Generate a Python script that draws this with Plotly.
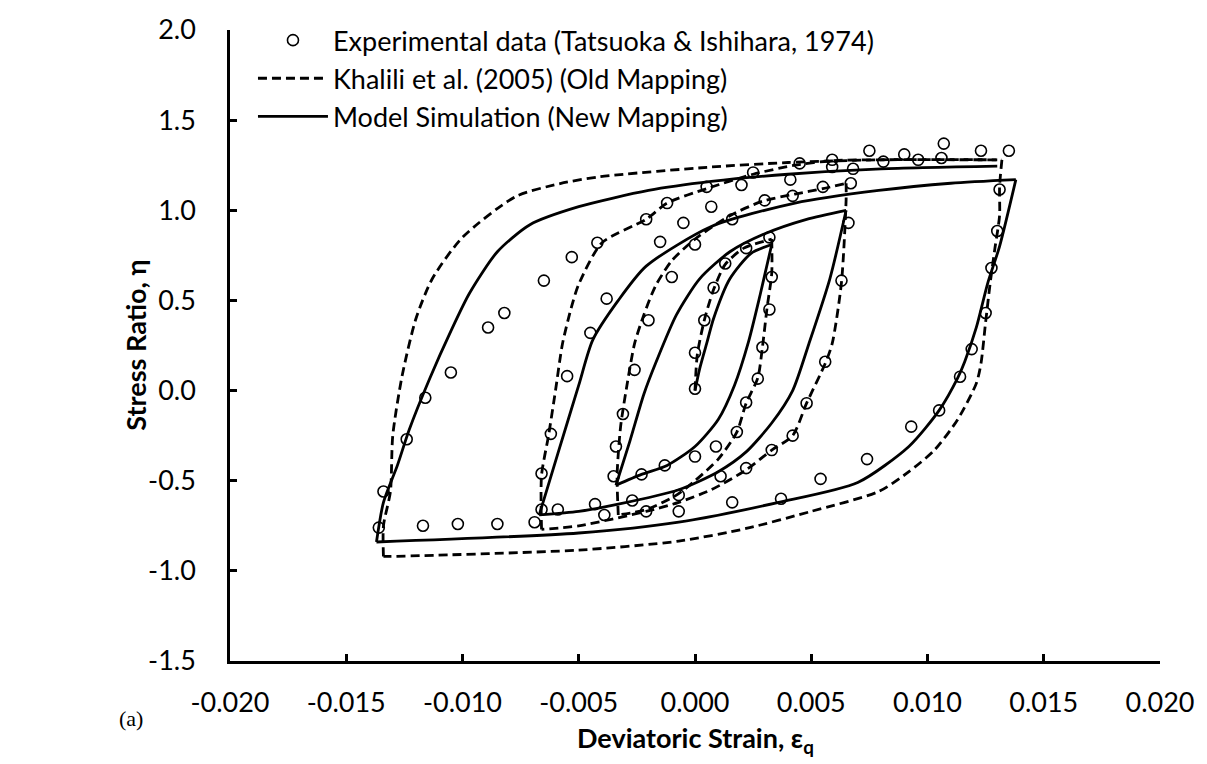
import plotly.graph_objects as go

# ---------------- Data (deviatoric strain, stress ratio) ----------------
# Experimental data (Tatsuoka & Ishihara, 1974)
exp_x = [-0.0136, -0.0134, -0.0124, -0.0116, -0.0105, -0.0089, -0.0082, -0.0065, -0.0053,
         -0.0055, -0.0062, -0.0066, -0.0117, -0.0102, -0.0085, -0.0069, -0.0066, -0.0059,
         -0.0042, -0.0045, 0.0075, 0.0045, 0.0059, 0.0059, 0.0068, 0.0025, 0.0041, 0.0020,
         0.0005, 0.0055, 0.0067, 0.0042, 0.0030, 0.0007, -0.0012, -0.0021, -0.0005, 0.0016,
         -0.0015, 0.0000, 0.0032, 0.0066, 0.0022, 0.0013, -0.0038, -0.0010, 0.0008, 0.0033,
         0.0063, -0.0020, 0.0004, 0.0032, 0.0000, 0.0029, 0.0056, 0.0107, 0.0135, 0.0123,
         0.0090, 0.0096, 0.0106, 0.0081, 0.0131, 0.0130, 0.01275, 0.0125, 0.0119, 0.0114,
         0.0105, 0.0093, 0.0074, -0.0026, 0.0027, 0.0000, 0.0048, 0.0022, -0.0031, 0.0018,
         0.0042, 0.0009, 0.0033, -0.0034, 0.0000, -0.0013, 0.0022, -0.0023, -0.0035, 0.0011,
         0.0054, 0.0037, 0.0016, -0.0027, -0.0007, -0.0043, -0.0021, -0.0007, -0.0039]
exp_y = [-0.76, -0.56, -0.27, -0.04, 0.10, 0.35, 0.43, 0.61, 0.74,
         0.08, -0.24, -0.46, -0.75, -0.74, -0.74, -0.73, -0.66, -0.66,
         0.82, 0.32, 1.33, 1.26, 1.28, 1.24, 1.23, 1.21, 1.17, 1.14,
         1.13, 1.13, 1.15, 1.08, 1.055, 1.02, 1.04, 0.95, 0.93, 0.95,
         0.825, 0.81, 0.85, 0.93, 0.79, 0.705, 0.51, 0.63, 0.57, 0.63,
         0.61, 0.39, 0.39, 0.45, 0.21, 0.24, 0.16, 1.37, 1.33, 1.33,
         1.31, 1.28, 1.29, 1.27, 1.115, 0.885, 0.68, 0.43, 0.23, 0.077,
         -0.11, -0.20, -0.38, 0.115, 0.066, 0.01, -0.07, -0.066, -0.13, -0.23,
         -0.25, -0.31, -0.33, -0.31, -0.366, -0.415, -0.43, -0.465, -0.475, -0.475,
         -0.49, -0.60, -0.62, -0.61, -0.58, -0.63, -0.67, -0.67, -0.69]

# Khalili et al. (2005) (Old Mapping) -- branches in loading order
old_b1_x = [0.0, 0.0001, 0.0004, 0.0008, 0.0013, 0.0021, 0.0033]
old_b1_y = [0.0, 0.20, 0.39, 0.56, 0.70, 0.79, 0.84]
old_b2_x = [0.0033, 0.0033, 0.0031, 0.0029, 0.0027, 0.0022, 0.0018, 0.0010, 0.0000, -0.0008, -0.0021, -0.0033]
old_b2_y = [0.84, 0.65, 0.46, 0.24, 0.07, -0.07, -0.23, -0.38, -0.50, -0.58, -0.66, -0.69]
old_b3_x = [-0.0033, -0.00335, -0.0032, -0.0029, -0.0026, -0.0022, -0.0017, -0.0010, 0.0000, 0.0015, 0.0029, 0.0043, 0.0055, 0.0065]
old_b3_y = [-0.69, -0.47, -0.20, 0.05, 0.26, 0.42, 0.58, 0.72, 0.84, 0.97, 1.05, 1.09, 1.12, 1.15]
old_b4_x = [0.0065, 0.0065, 0.0063, 0.0059, 0.0056, 0.0048, 0.0042, 0.0033, 0.0022, 0.0007, -0.0007, -0.0021, -0.0050, -0.0066]
old_b4_y = [1.15, 1.06, 0.60, 0.26, 0.15, -0.07, -0.25, -0.33, -0.44, -0.55, -0.62, -0.67, -0.75, -0.77]
old_b5_x = [-0.0066, -0.0066, -0.0063, -0.0060, -0.0057, -0.0053, -0.0050, -0.0040, -0.0021, -0.0012, 0.0005, 0.0025, 0.0043, 0.0059, 0.0079, 0.0132]
old_b5_y = [-0.77, -0.47, -0.25, 0.0, 0.26, 0.47, 0.59, 0.82, 0.95, 1.04, 1.12, 1.20, 1.25, 1.275, 1.28, 1.28]
old_b6_x = [0.0132, 0.0131, 0.0131, 0.0129, 0.0127, 0.0125, 0.0123, 0.0121, 0.0113, 0.0103, 0.0092, 0.0079, 0.0050, 0.0022, -0.0007, -0.0050, -0.0131, -0.0134]
old_b6_y = [1.28, 1.13, 0.97, 0.79, 0.60, 0.38, 0.15, 0.04, -0.16, -0.33, -0.45, -0.56, -0.67, -0.765, -0.835, -0.885, -0.92, -0.92]
old_b7_x = [-0.0134, -0.0134, -0.0131, -0.0130, -0.0126, -0.0120, -0.0113, -0.0100, -0.0077, -0.0058, -0.0041, 0.0007, 0.0040, 0.0079, 0.0130]
old_b7_y = [-0.92, -0.75, -0.56, -0.25, 0.08, 0.40, 0.62, 0.85, 1.077, 1.148, 1.186, 1.24, 1.265, 1.28, 1.28]

# Model Simulation (New Mapping) -- branches in loading order
new_b1_x = [0.0, 0.0002, 0.0005, 0.0008, 0.0015, 0.0024, 0.0033]
new_b1_y = [0.0, 0.12, 0.26, 0.40, 0.62, 0.76, 0.81]
new_b2_x = [0.0033, 0.0028, 0.0023, 0.0017, 0.0010, 0.0000, -0.0012, -0.0023, -0.0034]
new_b2_y = [0.81, 0.53, 0.27, 0.03, -0.16, -0.31, -0.415, -0.465, -0.525]
new_b3_x = [-0.0034, -0.0028, -0.0022, -0.0017, -0.0008, 0.0002, 0.0015, 0.0030, 0.0048, 0.0065]
new_b3_y = [-0.525, -0.28, -0.02, 0.15, 0.42, 0.62, 0.77, 0.87, 0.95, 1.0]
new_b4_x = [0.0065, 0.0058, 0.0049, 0.0042, 0.0033, 0.0022, 0.0010, -0.0007, -0.0033, -0.0050, -0.0067]
new_b4_y = [1.0, 0.62, 0.26, 0.0, -0.18, -0.34, -0.45, -0.55, -0.63, -0.67, -0.69]
new_b5_x = [-0.0067, -0.0059, -0.0050, -0.0044, -0.0033, -0.0021, 0.0007, 0.0043, 0.0079, 0.0110, 0.0138]
new_b5_y = [-0.69, -0.35, 0.03, 0.28, 0.50, 0.69, 0.91, 1.04, 1.11, 1.15, 1.17]
new_b6_x = [0.0138, 0.0131, 0.0126, 0.0121, 0.0116, 0.0113, 0.0105, 0.0092, 0.0070, 0.0036, -0.0007, -0.0050, -0.0137]
new_b6_y = [1.17, 0.80, 0.60, 0.35, 0.16, 0.07, -0.11, -0.31, -0.51, -0.62, -0.73, -0.79, -0.84]
new_b7_x = [-0.0137, -0.0134, -0.0128, -0.0123, -0.0114, -0.0105, -0.0097, -0.0085, -0.0071, -0.0050, -0.0020, 0.0007, 0.0040, 0.0080, 0.0130]
new_b7_y = [-0.84, -0.62, -0.415, -0.22, 0.07, 0.33, 0.54, 0.77, 0.92, 1.02, 1.11, 1.16, 1.20, 1.23, 1.245]

# Axis ticks
x_tick_vals = [-0.020, -0.015, -0.010, -0.005, 0.000, 0.005, 0.010, 0.015, 0.020]
x_tick_text = ["-0.020", "-0.015", "-0.010", "-0.005", "0.000", "0.005", "0.010", "0.015", "0.020"]
y_tick_vals = [-1.5, -1.0, -0.5, 0.0, 0.5, 1.0, 1.5, 2.0]
y_tick_text = ["-1.5", "-1.0", "-0.5", "0.0", "0.5", "1.0", "1.5", "2.0"]


def join(branches):
    xs, ys = [], []
    for bx, by in branches:
        xs += list(bx) + [None]
        ys += list(by) + [None]
    return xs[:-1], ys[:-1]


old_x, old_y = join([(old_b1_x, old_b1_y), (old_b2_x, old_b2_y), (old_b3_x, old_b3_y),
                     (old_b4_x, old_b4_y), (old_b5_x, old_b5_y), (old_b6_x, old_b6_y),
                     (old_b7_x, old_b7_y)])
new_x, new_y = join([(new_b1_x, new_b1_y), (new_b2_x, new_b2_y), (new_b3_x, new_b3_y),
                     (new_b4_x, new_b4_y), (new_b5_x, new_b5_y), (new_b6_x, new_b6_y),
                     (new_b7_x, new_b7_y)])

FONT = "Lato"

fig = go.Figure()
fig.add_trace(go.Scatter(
    x=exp_x, y=exp_y, mode="markers",
    name="Experimental data (Tatsuoka & Ishihara, 1974)",
    marker=dict(symbol="circle-open", size=11, color="black", line=dict(width=1.6)),
))
fig.add_trace(go.Scatter(
    x=old_x, y=old_y, mode="lines", connectgaps=False,
    name="Khalili et al. (2005) (Old Mapping)",
    line=dict(color="black", width=2.8, dash="9px,5px", shape="spline", smoothing=0.7),
))
fig.add_trace(go.Scatter(
    x=new_x, y=new_y, mode="lines", connectgaps=False,
    name="Model Simulation (New Mapping)",
    line=dict(color="black", width=2.8, shape="spline", smoothing=0.7),
))

fig.update_layout(
    width=1207, height=764,
    margin=dict(l=230, r=45, t=21, b=103),
    paper_bgcolor="white", plot_bgcolor="white",
    font=dict(family=FONT, size=27, color="black"),
    showlegend=True,
    legend=dict(
        x=0.0247, y=1.022, xanchor="left", yanchor="top",
        bgcolor="rgba(0,0,0,0)", borderwidth=0,
        font=dict(family=FONT, size=27, color="black"),
        itemwidth=70, tracegroupgap=0, traceorder="normal",
    ),
    xaxis=dict(
        range=[-0.020, 0.020], tickmode="array", tickvals=x_tick_vals, ticktext=x_tick_text,
        showgrid=False, zeroline=False, showline=True, linecolor="black", linewidth=2.5,
        ticks="inside", ticklen=7, tickwidth=2.5, tickcolor="black",
        tickfont=dict(family=FONT, size=27), ticklabelstandoff=16, mirror=False,
    ),
    yaxis=dict(
        range=[-1.5, 2.0], tickmode="array", tickvals=y_tick_vals, ticktext=y_tick_text,
        showgrid=False, zeroline=False, showline=True, linecolor="black", linewidth=2.5,
        ticks="inside", ticklen=7, tickwidth=2.5, tickcolor="black",
        tickfont=dict(family=FONT, size=27), ticklabelstandoff=26, mirror=False,
    ),
    annotations=[
        dict(text="<b>Deviatoric Strain, ε<sub>q</sub></b>", xref="paper", yref="paper",
             x=0.5, y=-0.092, xanchor="center", yanchor="top", showarrow=False,
             font=dict(family=FONT, size=27, color="black")),
        dict(text="<b>Stress Ratio, η</b>", xref="paper", yref="paper",
             x=-0.1020, y=0.5, xanchor="center", yanchor="middle", showarrow=False,
             textangle=-90, font=dict(family=FONT, size=27, color="black")),
        dict(text="(a)", xref="paper", yref="paper",
             x=-0.1212, y=-0.0906, xanchor="left", yanchor="middle", showarrow=False,
             font=dict(family="Liberation Serif", size=22, color="black")),
    ],
)

fig.write_html("out.html")
